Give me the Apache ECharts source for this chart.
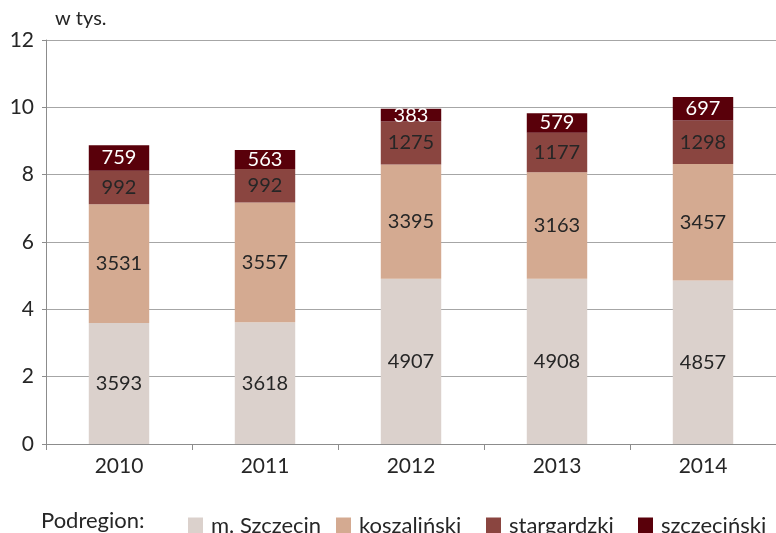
<!DOCTYPE html>
<html>
<head>
<meta charset="utf-8">
<script src="https://cdn.jsdelivr.net/npm/echarts@6/dist/echarts.min.js"></script>
<style>
  html, body { margin: 0; padding: 0; background: #fff; }
  #chart { width: 776px; height: 533px; }
</style>
</head>
<body>
<div id="chart"></div>
<script>
// Years on the category axis
const years = ['2010', '2011', '2012', '2013', '2014'];

// Values per subregion (persons)
const mSzczecin   = [3593, 3618, 4907, 4908, 4857];
const koszalinski = [3531, 3557, 3395, 3163, 3457];
const stargardzki = [992, 992, 1275, 1177, 1298];
const szczecinski = [759, 563, 383, 579, 697];

// Y axis ticks in thousands
const yTicks = [0, 2, 4, 6, 8, 10, 12];

// Subregion names, in stacking order
const subregions = ['m. Szczecin', 'koszaliński', 'stargardzki', 'szczeciński'];

const FONT = 'Lato';
const TEXT = '#262626';
const chart = echarts.init(document.getElementById('chart'), null, { renderer: 'canvas' });

function seriesOf(name, data, color, labelColor) {
  return {
    name: name,
    type: 'bar',
    stack: 'total',
    data: data,
    barWidth: '41.4%',
    itemStyle: { color: color },
    label: {
      show: true,
      position: 'inside',
      color: labelColor,
      fontFamily: FONT,
      fontSize: 20
    }
  };
}

// One legend block per subregion so each entry keeps its own slot
const legendLefts = [183, 331, 481, 633];
const legends = subregions.map((name, i) => ({
  left: legendLefts[i],
  top: 510,
  itemWidth: 15,
  itemHeight: 17,
  icon: 'rect',
  textStyle: { fontFamily: FONT, fontSize: 22, color: TEXT, padding: [0, 0, 0, 3] },
  data: [name]
}));

chart.setOption({
  animation: false,
  textStyle: { fontFamily: FONT },
  grid: { left: 46, right: -7, top: 40, bottom: 89, containLabel: false },
  graphic: [
    { type: 'text', left: 55, top: 9, style: { text: 'w tys.', fontFamily: FONT, fontSize: 20, fill: TEXT } },
    { type: 'text', left: 41, top: 510, style: { text: 'Podregion:', fontFamily: FONT, fontSize: 22, fill: TEXT } }
  ],
  legend: legends,
  xAxis: {
    type: 'category',
    data: years,
    axisLine: { lineStyle: { color: '#8c8c8c', width: 1 } },
    axisTick: { show: true, length: 6, lineStyle: { color: '#8c8c8c' } },
    axisLabel: { color: TEXT, fontFamily: FONT, fontSize: 21, margin: 12 }
  },
  yAxis: {
    type: 'value',
    min: 0,
    max: 12000,
    interval: 2000,
    axisLine: { show: true, lineStyle: { color: '#8c8c8c', width: 1 } },
    axisTick: { show: true, length: 4, lineStyle: { color: '#8c8c8c' } },
    axisLabel: {
      color: TEXT, fontFamily: FONT, fontSize: 21, margin: 12,
      formatter: v => yTicks.includes(v / 1000) ? String(v / 1000) : ''
    },
    splitLine: { show: true, lineStyle: { color: '#a6a6a6', width: 1 } }
  },
  series: [
    seriesOf(subregions[0], mSzczecin, '#dbd1cc', TEXT),
    seriesOf(subregions[1], koszalinski, '#d4aa91', TEXT),
    seriesOf(subregions[2], stargardzki, '#8a4540', TEXT),
    seriesOf(subregions[3], szczecinski, '#59000a', '#ffffff')
  ]
});
</script>
</body>
</html>
